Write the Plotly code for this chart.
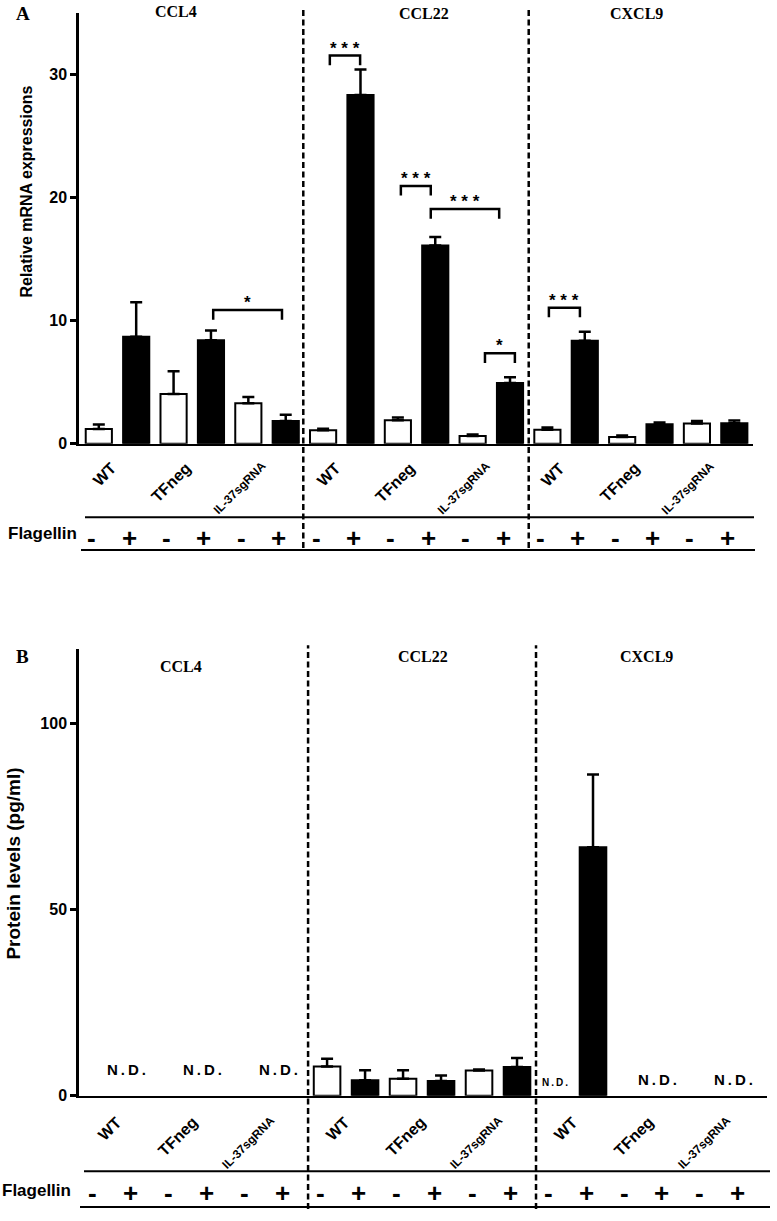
import plotly.graph_objects as go

# ---------------- data ----------------
chemokines = ["CCL4", "CCL22", "CXCL9"]
cell_lines = ["WT", "TFneg", "IL-37sgRNA"]
flagellin = ["-", "+"]

# Panel A: relative mRNA expression (18 bars: 3 chemokines x 3 cell lines x -/+ flagellin)
mrna_mean = [1.19, 8.69, 4.03, 8.41, 3.28, 1.85,
             1.10, 28.33, 1.91, 16.10, 0.62, 4.94,
             1.13, 8.36, 0.54, 1.59, 1.64, 1.67]
mrna_err = [0.37, 2.81, 1.86, 0.78, 0.51, 0.51,
            0.12, 2.07, 0.21, 0.70, 0.13, 0.46,
            0.18, 0.73, 0.13, 0.13, 0.21, 0.21]

# Panel B: protein levels (pg/ml); None = not detected
protein_mean = [None, None, None, None, None, None,
                7.9, 4.2, 4.6, 4.0, 6.8, 7.75,
                None, 66.8, None, None, None, None]
protein_err = [None, None, None, None, None, None,
               2.1, 2.7, 2.3, 1.5, 0.3, 2.45,
               None, 19.5, None, None, None, None]

# significance brackets in panel A: (left x, right x, bracket level, label)
sig_x0 = [3.06, 6.18, 8.08, 8.88, 10.33, 12.04]
sig_x1 = [4.90, 6.99, 8.88, 10.71, 11.13, 12.87]
sig_y = [10.86, 31.53, 20.94, 19.06, 7.34, 11.05]
sig_label = ["*", "* * *", "* * *", "* * *", "*", "* * *"]

# N.D. markers in panel B
nd_x = [0.5, 2.5, 4.5, 12.0, 14.5, 16.5]
nd_y = [7.0, 7.0, 7.0, 3.5, 4.3, 4.3]
nd_size = [15, 15, 15, 10, 15, 15]

# ---------------- layout helpers ----------------
W, H = 777, 1221
SANS = "Liberation Sans, Arial, sans-serif"
SERIF = "Liberation Serif, Times New Roman, serif"


def px(x):
    return x / W


def py(y):
    return 1 - y / H


n = len(mrna_mean)
xs = list(range(n))
colors = ["white" if i % 2 == 0 else "black" for i in xs]

fig = go.Figure()
fig.add_trace(go.Bar(
    x=xs, y=mrna_mean, width=0.7, xaxis="x", yaxis="y",
    marker=dict(color=colors, line=dict(color="black", width=2)),
    error_y=dict(type="data", array=mrna_err, arrayminus=[0] * n, symmetric=False,
                 color="black", thickness=2.5, width=6),
))
fig.add_trace(go.Bar(
    x=xs, y=protein_mean, width=0.7, xaxis="x2", yaxis="y2",
    marker=dict(color=colors, line=dict(color="black", width=2)),
    error_y=dict(type="data", array=protein_err, arrayminus=[0] * n, symmetric=False,
                 color="black", thickness=2.5, width=6),
))

axis_common = dict(showgrid=False, zeroline=False, linecolor="black", showline=True)
fig.update_layout(
    width=W, height=H, margin=dict(l=0, r=0, t=0, b=0),
    plot_bgcolor="white", paper_bgcolor="white", showlegend=False,
    font=dict(family=SANS, color="black"),
    xaxis=dict(domain=[px(79), px(753)], range=[-0.53, 17.5], anchor="y",
               showticklabels=False, ticks="", linewidth=2, **axis_common),
    yaxis=dict(domain=[py(447), py(13)], range=[0, 35], anchor="x",
               tickvals=[0, 10, 20, 30], ticks="outside", ticklen=6, tickwidth=2.5,
               tickcolor="black", linewidth=2.5,
               tickfont=dict(size=16, family=SANS, weight="bold", color="black"),
               **axis_common),
    xaxis2=dict(domain=[px(79), px(767)], range=[-0.53, 17.58], anchor="y2",
                showticklabels=False, ticks="", linewidth=2, **axis_common),
    yaxis2=dict(domain=[py(1104), py(654)], range=[0, 120], anchor="x2",
                tickvals=[0, 50, 100], ticks="outside", ticklen=6, tickwidth=2.5,
                tickcolor="black", linewidth=2.5,
                tickfont=dict(size=16, family=SANS, weight="bold", color="black"),
                **axis_common),
)

shapes = []
ann = []


def txt(text, x, y, size, family=SANS, bold=True, **kw):
    d = dict(text=text, x=x, y=y, xref="paper", yref="paper", showarrow=False,
             xanchor="center", yanchor="middle",
             font=dict(family=family, size=size, weight="bold" if bold else "normal",
                       color="black"))
    d.update(kw)
    return d


# panel letters
ann.append(txt("A", px(23), py(14), 19, SERIF))
ann.append(txt("B", px(22.5), py(661.5), 19, SERIF))

# chemokine titles
titleA = [(176, 12), (424, 13.5), (636, 13.5)]
titleB = [(181, 671), (423, 661), (646, 661)]
for name, (tx, ty) in zip(chemokines, titleA):
    ann.append(txt(name, px(tx), py(ty), 16, SERIF))
for name, (tx, ty) in zip(chemokines, titleB):
    ann.append(txt(name, px(tx), py(ty), 16, SERIF))

# y axis titles
ann.append(txt("Relative mRNA expressions", px(27), py(193), 16, textangle=-90))
ann.append(txt("Protein levels (pg/ml)", px(14), py(870), 19, textangle=-90))

# dashed separators
for xa, ytop, ybot, xsep in [("x", 8, 552, [5.47, 11.5]), ("x2", 650, 1218, [5.5, 11.5])]:
    for xv in xsep:
        shapes.append(dict(type="line", xref=xa, yref="paper", x0=xv, x1=xv,
                           y0=py(ybot), y1=py(ytop),
                           line=dict(color="black", width=2.5, dash="6px,3.5px")))

# rotated cell line labels
for xa, ytop, off in [("x", 460, 0.12), ("x2", 1119, 0.25)]:
    for gi, chem in enumerate(chemokines):
        for ci, cl in enumerate(cell_lines):
            center = gi * 6 + ci * 2 + 0.5
            ann.append(dict(text=cl, x=center + off, y=py(ytop), xref=xa, yref="paper",
                            xanchor="right", yanchor="top", textangle=-45, showarrow=False,
                            font=dict(family=SANS, size=12 if ci == 2 else 16, weight="bold",
                                      color="black")))

# flagellin rows
for xa, y_top_line, y_bot_line, y_sym, lab_y, lab_x, xr in [
        ("x", 521, 554, 542, 537, 6, (85, 754, 81, 755)),
        ("x2", 1180, 1216, 1202, 1199, 0, (84, 770, 80, 770))]:
    shapes.append(dict(type="line", xref="paper", yref="paper", x0=px(xr[0]), x1=px(xr[1]),
                       y0=py(y_top_line), y1=py(y_top_line), line=dict(color="black", width=2)))
    shapes.append(dict(type="line", xref="paper", yref="paper", x0=px(xr[2]), x1=px(xr[3]),
                       y0=py(y_bot_line), y1=py(y_bot_line), line=dict(color="black", width=2)))
    ann.append(txt("Flagellin", px(lab_x), py(lab_y), 17, xanchor="left"))
    for i in xs:
        ann.append(dict(text=flagellin[i % 2], x=i, y=py(y_sym), xref=xa, yref="paper",
                        xanchor="center", yanchor="middle", xshift=-7, showarrow=False,
                        font=dict(family=SANS, size=26, weight="bold", color="black")))

# significance brackets
for x0, x1, yv, lab in zip(sig_x0, sig_x1, sig_y, sig_label):
    leg = 0.78
    shapes.append(dict(type="path", xref="x", yref="y",
                       path=f"M {x0},{yv - leg} L {x0},{yv} L {x1},{yv} L {x1},{yv - leg}",
                       line=dict(color="black", width=2.5)))
    ann.append(dict(text=lab, x=(x0 + x1) / 2, y=yv, xref="x", yref="y",
                    xanchor="center", yanchor="bottom", yshift=-4, showarrow=False,
                    font=dict(family=SANS, size=17, weight="bold", color="black")))

# N.D. labels
for xv, yv, sz in zip(nd_x, nd_y, nd_size):
    ann.append(dict(text="N\u2009.\u2009D\u2009.", x=xv, y=yv, xref="x2", yref="y2",
                    xanchor="center", yanchor="middle",
                    xshift=8 if sz > 12 else 0, showarrow=False,
                    font=dict(family=SANS, size=sz, weight="bold", color="black")))

fig.update_layout(shapes=shapes, annotations=ann)
fig.write_html("out.html", config={"displayModeBar": False},
               post_script="document.body.style.margin='0';document.body.style.overflow='hidden';")
